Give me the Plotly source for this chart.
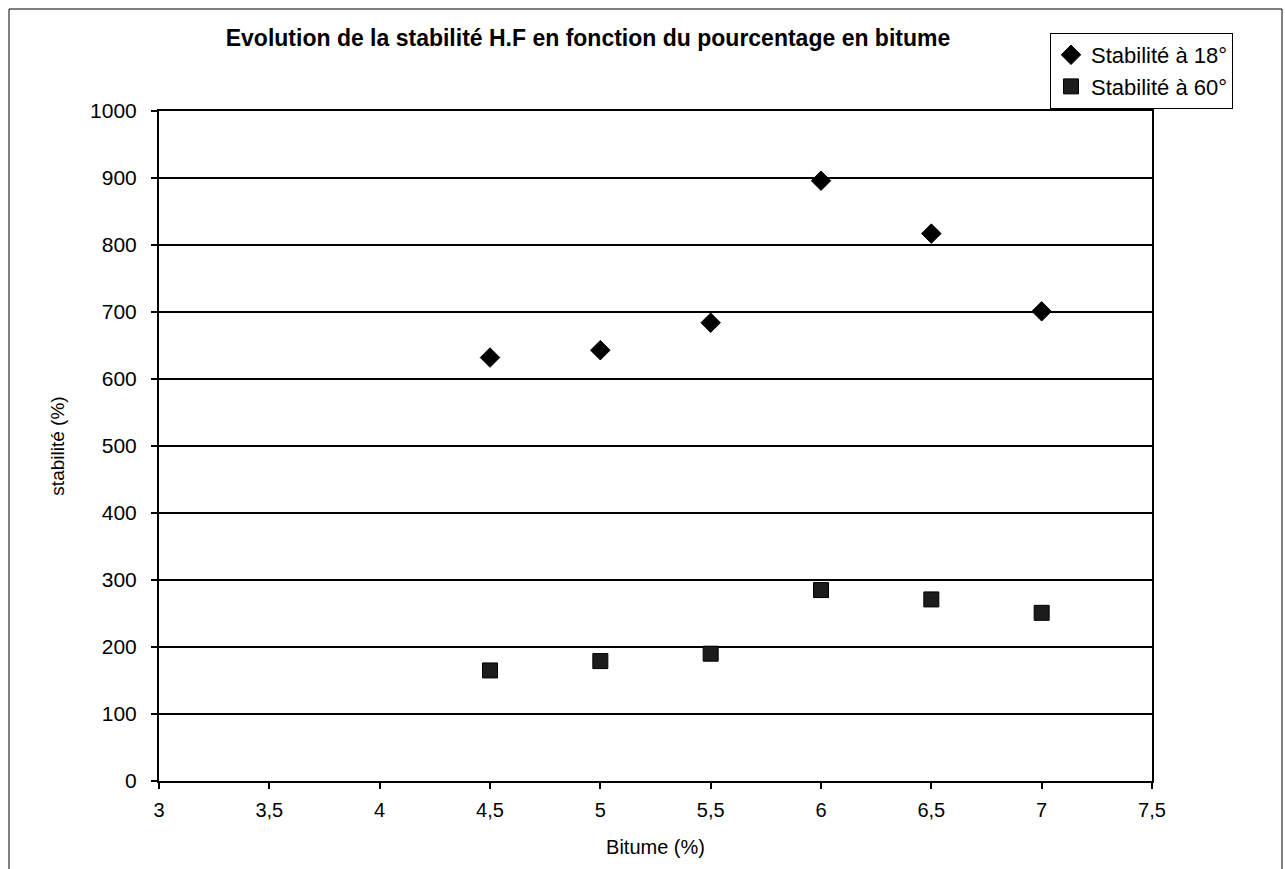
import plotly.graph_objects as go

bitume = [4.5, 5, 5.5, 6, 6.5, 7]
stab_18 = [632, 643, 684, 896, 817, 701]
stab_60 = [165, 179, 190, 285, 271, 251]

title_text = "Evolution de la stabilité H.F en fonction du pourcentage en bitume"
name_18 = "Stabilité à 18°"
name_60 = "Stabilité à 60°"
x_title = "Bitume (%)"
y_title = "stabilité (%)"

FONT = "Liberation Sans, Arial, sans-serif"

W, H = 1285, 869
L, R, T, B = 159, 1152, 111, 781

fig = go.Figure()
fig.add_trace(go.Scatter(
    x=bitume, y=stab_18, mode="markers", name=name_18,
    marker=dict(symbol="diamond", size=15, color="black", line=dict(color="black", width=1)),
))
fig.add_trace(go.Scatter(
    x=bitume, y=stab_60, mode="markers", name=name_60,
    marker=dict(symbol="square", size=15, color="#1c1c1c", line=dict(color="black", width=1)),
))

def px2paper_x(px):
    return (px - L) / (R - L)

def px2paper_y(py):
    return (B - py) / (B - T)

fig.update_layout(
    width=W, height=H,
    margin=dict(l=L, r=W - R, t=T, b=H - B),
    paper_bgcolor="white", plot_bgcolor="white",
    separators=", ",
    font=dict(family=FONT, color="black"),
    title=dict(text="<b>" + title_text + "</b>", x=588 / W, xanchor="center",
               y=1 - 38 / H, yanchor="middle", font=dict(size=23, family=FONT)),
    showlegend=True,
    legend=dict(
        x=px2paper_x(1050), y=px2paper_y(33), xanchor="left", yanchor="top",
        bgcolor="white", bordercolor="black", borderwidth=1,
        font=dict(size=22, family=FONT), itemwidth=30,
        tracegroupgap=0,
    ),
    xaxis=dict(
        range=[3, 7.5], dtick=0.5, tick0=3,
        showgrid=False, zeroline=False,
        showline=True, linecolor="black", linewidth=2, mirror=True,
        ticks="outside", ticklen=6, tickcolor="black", tickwidth=1.5,
        tickfont=dict(size=20, family=FONT), ticklabelstandoff=4,
        title=dict(text=x_title, font=dict(size=20, family=FONT), standoff=20),
    ),
    yaxis=dict(
        range=[0, 1000], dtick=100, tick0=0,
        showgrid=True, gridcolor="black", gridwidth=1.5,
        zeroline=False,
        showline=True, linecolor="black", linewidth=2, mirror=True,
        ticks="outside", ticklen=6, tickcolor="black", tickwidth=1.5,
        tickfont=dict(size=21, family=FONT), ticklabelstandoff=10,
        title=dict(text=y_title, font=dict(size=19, family=FONT), standoff=20),
    ),
    shapes=[
        dict(type="rect", xref="paper", yref="paper",
             x0=px2paper_x(9), x1=px2paper_x(1282), y0=px2paper_y(900), y1=px2paper_y(9),
             line=dict(color="black", width=1), fillcolor="rgba(0,0,0,0)", layer="below"),
    ],
)

fig.write_html("out.html")
